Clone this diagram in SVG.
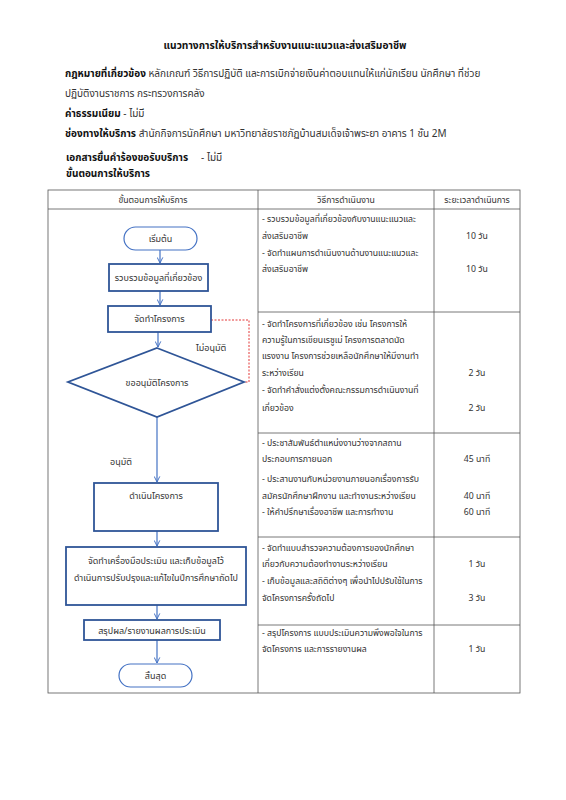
<svg xmlns="http://www.w3.org/2000/svg" width="566" height="800" viewBox="0 0 566 800">
<defs>
<style>
text{font-family:"Noto Sans Thai","Noto Sans","DejaVu Sans",sans-serif;fill:#333;font-size:8.7px}
.b{font-weight:bold;fill:#111}
.t{font-size:10px}
.f{font-size:9px}
.m{text-anchor:middle}
.grid{stroke:#555;stroke-width:0.8;fill:none}
.box{fill:#fff;stroke:#2f5597;stroke-width:1.8}
.term{fill:#fff;stroke:#4472c4;stroke-width:1.2}
.arr{stroke:#4472c4;stroke-width:1.2;fill:none;marker-end:url(#ah)}
</style>
<marker id="ah" viewBox="0 0 10 10" refX="9" refY="5" markerWidth="7" markerHeight="7" markerUnits="userSpaceOnUse" orient="auto">
<polyline points="1,1 9,5 1,9" fill="none" stroke="#4472c4" stroke-width="1.4"/>
</marker>
</defs>
<rect width="566" height="800" fill="#fff"/>
<g id="header">
<text class="b m" style="font-size:10.2px" x="285" y="49">แนวทางการให้บริการสำหรับงานแนะแนวและส่งเสริมอาชีพ</text>
<text class="t" x="65" y="77"><tspan class="b">กฎหมายที่เกี่ยวข้อง</tspan> หลักเกณฑ์ วิธีการปฏิบัติ และการเบิกจ่ายเงินค่าตอบแทนให้แก่นักเรียน นักศึกษา ที่ช่วย</text>
<text class="t" x="65" y="97">ปฏิบัติงานราชการ กระทรวงการคลัง</text>
<text class="t" x="65" y="117"><tspan class="b">ค่าธรรมเนียม</tspan> - ไม่มี</text>
<text class="t" x="65" y="137"><tspan class="b">ช่องทางให้บริการ</tspan> สำนักกิจการนักศึกษา มหาวิทยาลัยราชภัฏบ้านสมเด็จเจ้าพระยา อาคาร 1 ชั้น 2M</text>
<text class="t" x="66" y="161" xml:space="preserve"><tspan class="b">เอกสารยื่นคำร้องขอรับบริการ</tspan>     - ไม่มี</text>
<text class="t b" x="66" y="177">ขั้นตอนการให้บริการ</text>
</g>
<g id="table">
<rect class="grid" x="48" y="190" width="472" height="503"/>
<line class="grid" x1="48" y1="209" x2="520" y2="209"/>
<line class="grid" x1="258" y1="190" x2="258" y2="693"/>
<line class="grid" x1="434" y1="190" x2="434" y2="693"/>
<line class="grid" x1="258" y1="312" x2="520" y2="312"/>
<line class="grid" x1="258" y1="433" x2="520" y2="433"/>
<line class="grid" x1="258" y1="537" x2="520" y2="537"/>
<line class="grid" x1="258" y1="625" x2="520" y2="625"/>
<text class="m" x="153" y="203">ขั้นตอนการให้บริการ</text>
<text class="m" x="346" y="203">วิธีการดำเนินงาน</text>
<text class="m" x="477" y="203">ระยะเวลาดำเนินการ</text>
<text x="262" y="222">- รวบรวมข้อมูลที่เกี่ยวข้องกับงานแนะแนวและ</text>
<text x="262" y="239">ส่งเสริมอาชีพ</text>
<text x="262" y="256">- จัดทำแผนการดำเนินงานด้านงานแนะแนวและ</text>
<text x="262" y="272">ส่งเสริมอาชีพ</text>
<text class="m" x="477" y="239">10 วัน</text>
<text class="m" x="477" y="272">10 วัน</text>
<text x="262" y="327">- จัดทำโครงการที่เกี่ยวข้อง เช่น โครงการให้</text>
<text x="262" y="343">ความรู้ในการเขียนเรซูเม่ โครงการตลาดนัด</text>
<text x="262" y="359">แรงงาน โครงการช่วยเหลือนักศึกษาให้มีงานทำ</text>
<text x="262" y="376">ระหว่างเรียน</text>
<text x="262" y="393">- จัดทำคำสั่งแต่งตั้งคณะกรรมการดำเนินงานที่</text>
<text x="262" y="411">เกี่ยวข้อง</text>
<text class="m" x="477" y="376">2 วัน</text>
<text class="m" x="477" y="411">2 วัน</text>
<text x="262" y="446">- ประชาสัมพันธ์ตำแหน่งงานว่างจากสถาน</text>
<text x="262" y="462">ประกอบการภายนอก</text>
<text x="262" y="482">- ประสานงานกับหน่วยงานภายนอกเรื่องการรับ</text>
<text x="262" y="499">สมัครนักศึกษาฝึกงาน และทำงานระหว่างเรียน</text>
<text x="262" y="515">- ให้คำปรึกษาเรื่องอาชีพ และการทำงาน</text>
<text class="m" x="477" y="462">45 นาที</text>
<text class="m" x="477" y="499">40 นาที</text>
<text class="m" x="477" y="515">60 นาที</text>
<text x="262" y="551">- จัดทำแบบสำรวจความต้องการของนักศึกษา</text>
<text x="262" y="567">เกี่ยวกับความต้องทำงานระหว่างเรียน</text>
<text x="262" y="584">- เก็บข้อมูลและสถิติต่างๆ เพื่อนำไปปรับใช้ในการ</text>
<text x="262" y="601">จัดโครงการครั้งถัดไป</text>
<text class="m" x="477" y="567">1 วัน</text>
<text class="m" x="477" y="601">3 วัน</text>
<text x="262" y="636">- สรุปโครงการ แบบประเมินความพึงพอใจในการ</text>
<text x="262" y="652">จัดโครงการ และการรายงานผล</text>
<text class="m" x="477" y="652">1 วัน</text>
</g>
<g id="connectors">
<line class="arr" x1="160" y1="250" x2="160" y2="263"/>
<line class="arr" x1="160" y1="291" x2="160" y2="305"/>
<line class="arr" x1="158" y1="332" x2="158" y2="347"/>
<line class="arr" x1="157" y1="417" x2="157" y2="482"/>
<line class="arr" x1="157" y1="531" x2="157" y2="546"/>
<line class="arr" x1="157" y1="605" x2="157" y2="619"/>
<line class="arr" x1="157" y1="640" x2="157" y2="663"/>
<polyline points="211,320 249,320 249,382 244,382" fill="none" stroke="#e02020" stroke-width="0.9" stroke-dasharray="2,1.5"/>
<text class="f" x="196" y="351">ไม่อนุมัติ</text>
<text class="f" x="110" y="465">อนุมัติ</text>
</g>
<g id="n-start"><rect class="term" x="124" y="227" width="73" height="23" rx="11.5"/><text class="m f" x="160.5" y="242">เริ่มต้น</text></g>
<g id="n-collect"><rect class="box" x="109" y="264" width="99" height="27"/><text class="m f" x="158.5" y="281">รวบรวมข้อมูลที่เกี่ยวข้อง</text></g>
<g id="n-make"><rect class="box" x="108" y="306" width="103" height="26"/><text class="m f" x="159.5" y="322">จัดทำโครงการ</text></g>
<g id="n-approve"><polygon class="box" points="157,348 244,382 157,417 68,382"/><text class="m f" x="157" y="386">ขออนุมัติโครงการ</text></g>
<g id="n-run"><rect class="box" x="94" y="483" width="124" height="48"/><text class="m f" x="156" y="499">ดำเนินโครงการ</text></g>
<g id="n-eval"><rect class="box" x="66" y="547" width="180" height="58"/><text class="m f" x="156" y="564">จัดทำเครื่องมือประเมิน และเก็บข้อมูลไว้</text><text class="m f" x="156" y="581">ดำเนินการปรับปรุงและแก้ไขในปีการศึกษาถัดไป</text></g>
<g id="n-report"><rect class="box" x="84" y="620" width="136" height="20"/><text class="m f" x="152" y="634">สรุปผล/รายงานผลการประเมิน</text></g>
<g id="n-end"><rect class="term" x="119" y="664" width="73" height="23" rx="11.5"/><text class="m f" x="155.5" y="679">สิ้นสุด</text></g>
</svg>
